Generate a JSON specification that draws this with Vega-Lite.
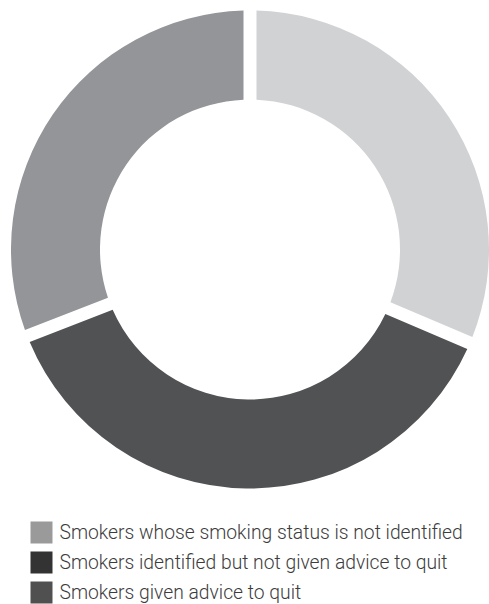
{
  "$schema": "https://vega.github.io/schema/vega-lite/v6.json",
  "padding": {"left": 11, "top": 0, "right": 0, "bottom": 0},
  "spacing": 22,
  "background": "white",
  "config": {"view": {"stroke": null}, "font": "Roboto"},
  "datasets": {
    "slices": [
      {"category": "Smokers identified but not given advice to quit", "share": 31.4, "order": 1},
      {"category": "Smokers given advice to quit", "share": 37.7, "order": 2},
      {"category": "Smokers whose smoking status is not identified", "share": 30.9, "order": 3}
    ],
    "legendrows": [
      {"category": "Smokers whose smoking status is not identified", "order": 1},
      {"category": "Smokers identified but not given advice to quit", "order": 2},
      {"category": "Smokers given advice to quit", "order": 3}
    ]
  },
  "vconcat": [
    {
      "width": 478,
      "height": 499,
      "data": {"name": "slices"},
      "mark": {"type": "arc", "outerRadius": 239, "innerRadius": 150, "padAngle": 0.046},
      "encoding": {
        "theta": {"field": "share", "type": "quantitative", "stack": true},
        "order": {"field": "order", "type": "quantitative"},
        "color": {
          "field": "category",
          "type": "nominal",
          "legend": null,
          "scale": {
            "domain": ["Smokers identified but not given advice to quit", "Smokers given advice to quit", "Smokers whose smoking status is not identified"],
            "range": ["#d1d2d4", "#515254", "#939598"]
          }
        }
      }
    },
    {
      "width": 61,
      "height": 83,
      "data": {"name": "legendrows"},
      "encoding": {
        "y": {"field": "category", "type": "ordinal", "sort": null, "axis": null, "scale": {"type": "point", "padding": 0.383}}
      },
      "layer": [
        {
          "mark": {"type": "point", "shape": "square", "size": 484, "filled": true, "opacity": 1, "strokeWidth": 0},
          "encoding": {
            "fill": {
              "field": "category",
              "type": "nominal",
              "legend": null,
              "scale": {
                "domain": ["Smokers whose smoking status is not identified", "Smokers identified but not given advice to quit", "Smokers given advice to quit"],
                "range": ["#9a9a9a", "#333333", "#505050"]
              }
            }
          }
        },
        {
          "mark": {"type": "text", "align": "left", "baseline": "alphabetic", "dx": 18, "dy": 6.5, "fontSize": 19.3, "fontWeight": 300, "color": "#3c3c3c"},
          "encoding": {"text": {"field": "category", "type": "nominal"}}
        }
      ]
    }
  ],
  "resolve": {"scale": {"color": "independent", "fill": "independent"}}
}
